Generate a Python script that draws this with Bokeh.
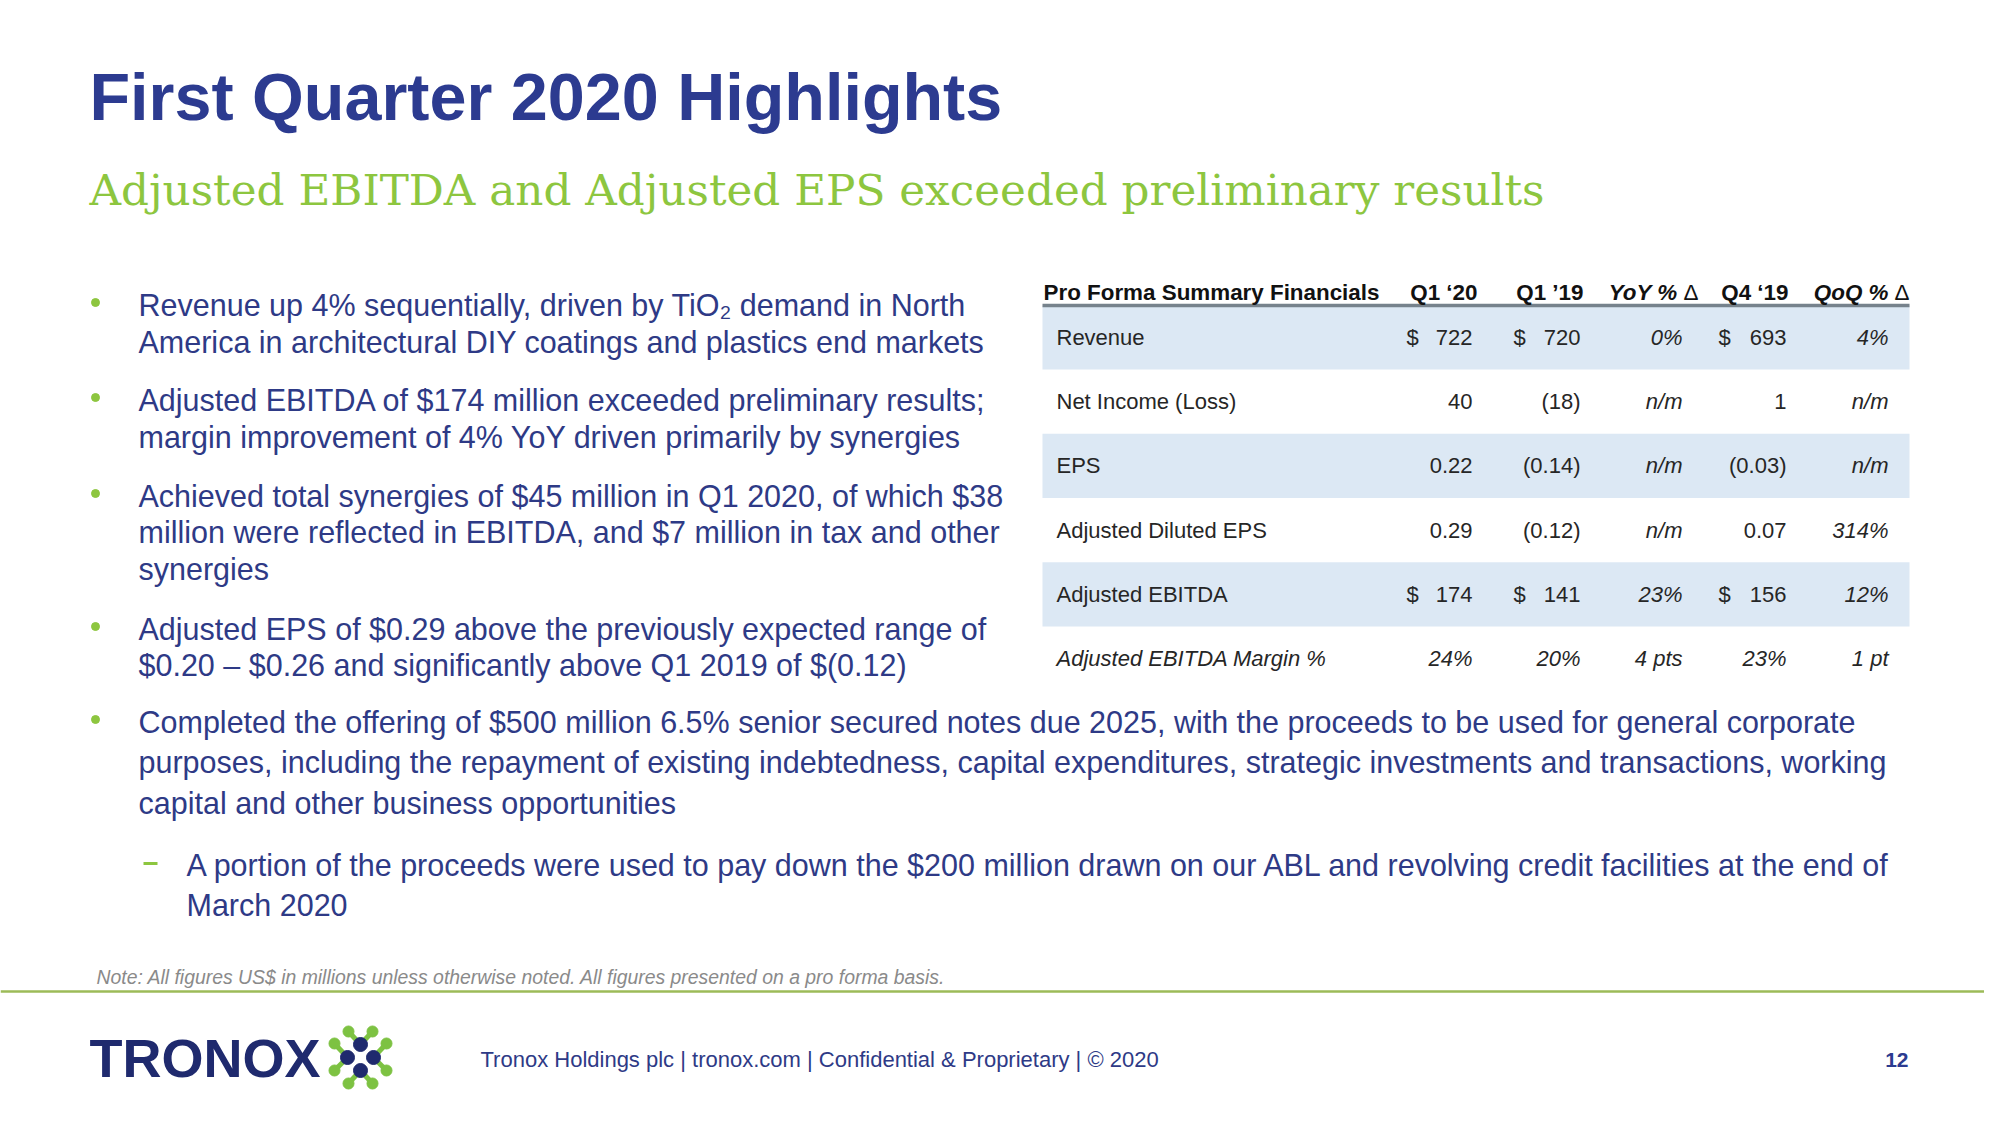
from bokeh.plotting import figure
from bokeh.models import Range1d
from bokeh.core.properties import value
from bokeh.embed import file_html
from bokeh.resources import INLINE

# ---------------- data ----------------
row_labels = ["Revenue", "Net Income (Loss)", "EPS", "Adjusted Diluted EPS",
              "Adjusted EBITDA", "Adjusted EBITDA Margin %"]
row_kind = ["usd", "int", "eps", "eps", "usd", "pct"]
q1_20 = [722, 40, 0.22, 0.29, 174, 24]
q1_19 = [720, -18, -0.14, -0.12, 141, 20]
q4_19 = [693, 1, -0.03, 0.07, 156, 23]
yoy = ["0%", "n/m", "n/m", "n/m", "23%", "4 pts"]
qoq = ["4%", "n/m", "n/m", "314%", "12%", "1 pt"]
col_headers = ["Pro Forma Summary Financials", "Q1 \u201820", "Q1 \u201919",
               "YoY %", "Q4 \u201819", "QoQ %"]

title = "First Quarter 2020 Highlights"
subtitle = "Adjusted EBITDA and Adjusted EPS exceeded preliminary results"
bullet_lines = [
    ["Revenue up 4% sequentially, driven by TiO\u2082 demand in North",
     "America in architectural DIY coatings and plastics end markets"],
    ["Adjusted EBITDA of $174 million exceeded preliminary results;",
     "margin improvement of 4% YoY driven primarily by synergies"],
    ["Achieved total synergies of $45 million in Q1 2020, of which $38",
     "million were reflected in EBITDA, and $7 million in tax and other",
     "synergies"],
    ["Adjusted EPS of $0.29 above the previously expected range of",
     "$0.20 \u2013 $0.26 and significantly above Q1 2019 of $(0.12)"],
    ["Completed the offering of $500 million 6.5% senior secured notes due 2025, with the proceeds to be used for general corporate",
     "purposes, including the repayment of existing indebtedness, capital expenditures, strategic investments and transactions, working",
     "capital and other business opportunities"],
]
sub_bullet = ["A portion of the proceeds were used to pay down the $200 million drawn on our ABL and revolving credit facilities at the end of",
              "March 2020"]
note = "Note: All figures US$ in millions unless otherwise noted. All figures presented on a pro forma basis."
footer = "Tronox Holdings plc  |  tronox.com  |  Confidential & Proprietary  |  \u00a9 2020"
page_no = "12"

# ---------------- styles ----------------
NAVY = "#2C3B90"
BODY = "#2E3A86"
GREEN = "#8DC63F"
FONT = "Liberation Sans"

p = figure(width=1984, height=1109, output_backend="svg", toolbar_location=None,
           x_range=Range1d(0, 1984), y_range=Range1d(1109, 0),
           min_border=0, outline_line_color=None)
p.axis.visible = False
p.grid.visible = False
p.background_fill_color = "white"


def txt(x, y, s, size, color, font=FONT, style="normal", align="left", baseline="middle"):
    p.text(x=[x], y=[y], text=[s], text_font=value(font),
           text_font_size=value(f"{size}px"), text_color=color,
           text_font_style=style, text_align=align, text_baseline=baseline)


# title / subtitle
txt(89, 96, title, 66.5, NAVY, style="bold")
txt(89, 189, subtitle, 43.7, GREEN, font="DejaVu Serif")

# bullets
line_y = [[304, 341], [399, 436], [495, 531, 568], [628, 664], [721, 761, 802]]
for lines, ys in zip(bullet_lines, line_y):
    p.scatter(x=[95], y=[ys[0] - 2], size=8, color=GREEN, marker="circle")
    for s, y in zip(lines, ys):
        txt(138, y, s, 30.5, BODY)
# sub bullet
p.segment(x0=[143], y0=[863], x1=[157], y1=[863], line_color=GREEN, line_width=3)
for s, y in zip(sub_bullet, [864, 904]):
    txt(186, y, s, 30.5, BODY)

# ---------------- table ----------------
row_y0, row_h = 337, 64.2
band_l, band_r = 1042, 1909
row_y = [row_y0 + i * row_h for i in range(len(row_labels))]
for i, y in enumerate(row_y):
    if i % 2 == 0:
        p.quad(left=[band_l], right=[band_r], top=[y - row_h / 2], bottom=[y + row_h / 2],
               fill_color="#DCE8F4", line_color=None)
p.segment(x0=[band_l], y0=[305], x1=[band_r], y1=[305], line_color="#76828C", line_width=3.5)

hdr_right = [1477, 1583, 1698, 1788, 1909]
HSZ = 22.4
txt(1043, 292, col_headers[0], HSZ, "#111111", style="bold")
for j, (h, xr) in enumerate(zip(col_headers[1:], hdr_right)):
    if j in (2, 4):
        # italic label followed by an upright delta sign
        txt(xr, 292, "\u0394", HSZ, "#111111", align="right")
        txt(xr - 21, 292, h, HSZ, "#111111", style="bold italic", align="right")
    else:
        txt(xr, 292, h, HSZ, "#111111", style="bold", align="right")


def fmt(v, kind):
    if kind == "pct":
        return f"{v:.0f}%"
    s = f"{abs(v):.2f}" if kind == "eps" else f"{abs(v):.0f}"
    return f"({s})" if v < 0 else s


val_right = [1472, 1580, 1682, 1786, 1888]
dollar_x = [1406, 1513, None, 1718, None]
TCOL = "#262626"
TSZ = 22
for i, (lab, kind, y) in enumerate(zip(row_labels, row_kind, row_y)):
    italic = kind == "pct"
    st = "italic" if italic else "normal"
    txt(1056, y, lab, TSZ, TCOL, style=st)
    cols = [fmt(q1_20[i], kind), fmt(q1_19[i], kind), yoy[i], fmt(q4_19[i], kind), qoq[i]]
    for j, s in enumerate(cols):
        cst = "italic" if (italic or j in (2, 4)) else "normal"
        txt(val_right[j], y, s, TSZ, TCOL, style=cst, align="right")
        if kind == "usd" and dollar_x[j] is not None:
            txt(dollar_x[j], y, "$", TSZ, TCOL)

# note + rule
txt(96, 976, note, 19.4, "#8A8A8A", style="italic")
p.segment(x0=[0], y0=[991], x1=[2000], y1=[991], line_color="#9CBB58", line_width=2.5)

# footer
txt(480, 1059, footer, 22, BODY)
txt(1908, 1059, page_no, 21, NAVY, style="bold", align="right")

# logo
txt(89, 1057, "TRONOX", 54, "#1F2A6E", style="bold")
cx, cy, d = 360, 1057, 13
navy_dx = [0, -d, d, 0]
navy_dy = [-d, 0, 0, d]
green_dx = [-12, 12, -26, 26, -26, 26, -12, 12]
green_dy = [-26, -26, -14, -14, 13, 13, 26, 26]
green_to = [0, 0, 1, 2, 1, 2, 3, 3]
p.segment(x0=[cx + dx for dx in green_dx], y0=[cy + dy for dy in green_dy],
          x1=[cx + navy_dx[k] for k in green_to], y1=[cy + navy_dy[k] for k in green_to],
          line_color="#7DC242", line_width=5)
p.scatter(x=[cx + dx for dx in green_dx], y=[cy + dy for dy in green_dy],
          size=11, color="#7DC242", marker="circle")
p.scatter(x=[cx + dx for dx in navy_dx], y=[cy + dy for dy in navy_dy],
          size=14, color="#1F2A6E", marker="circle")

open("out.html", "w").write(file_html(p, INLINE))
